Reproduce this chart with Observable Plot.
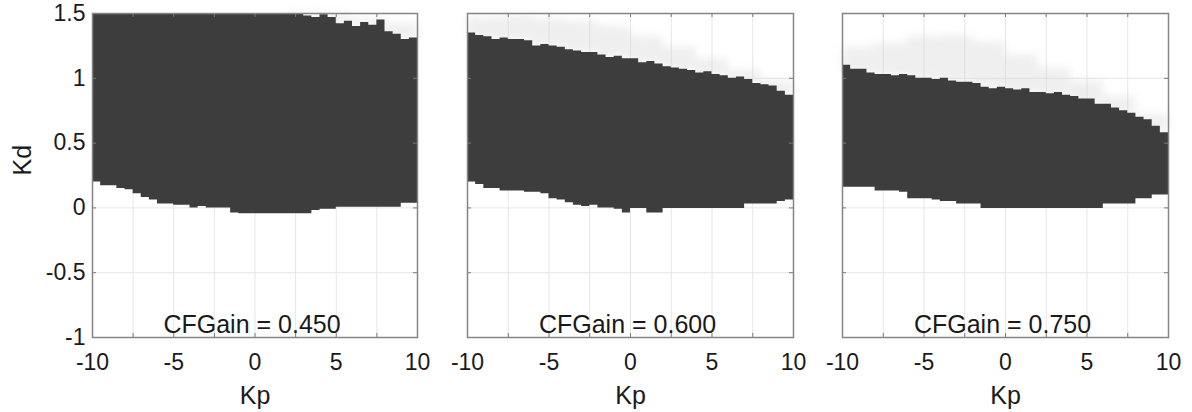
<!DOCTYPE html>
<html>
<head>
<meta charset="utf-8">
<script src="https://cdn.jsdelivr.net/npm/d3@7"></script>
<script src="https://cdn.jsdelivr.net/npm/@observablehq/plot@0.6"></script>
<style>
  body { margin: 0; background: #fff; }
  #chart { position: relative; width: 1192px; height: 412px; overflow: hidden; background: #fff; }
  #chart svg { position: absolute; top: 0; overflow: visible; }
</style>
</head>
<body>
<div id="chart"></div>
<script>
// Kp cell edges of the stability sweep (0.5 wide cells)
const kpEdges = [-10, -9.5, -9, -8.5, -8, -7.5, -7, -6.5, -6, -5.5, -5, -4.5, -4, -3.5, -3, -2.5, -2, -1.5, -1, -0.5,
                 0, 0.5, 1, 1.5, 2, 2.5, 3, 3.5, 4, 4.5, 5, 5.5, 6, 6.5, 7, 7.5, 8, 8.5, 9, 9.5, 10];
// coarse Kp edges for the faint marginal band above the stable region
const hazeEdges = [-10, -8, -6, -4, -2, 0, 2, 4, 6, 8, 10];

const cfGains = ["0.450", "0.600", "0.750"];

// Stable Kd range per Kp cell, CFGain = 0.450
const kdUpper045 = [1.5, 1.5, 1.5, 1.5, 1.5, 1.5, 1.5, 1.5, 1.5, 1.5, 1.5, 1.5, 1.5, 1.5, 1.5, 1.5, 1.5, 1.5, 1.5, 1.5,
                    1.5, 1.5, 1.5, 1.5, 1.5, 1.5, 1.48, 1.47, 1.49, 1.47, 1.42, 1.44, 1.40, 1.43, 1.41, 1.45, 1.36, 1.34, 1.30, 1.31];
const kdLower045 = [0.20, 0.17, 0.17, 0.15, 0.14, 0.11, 0.08, 0.06, 0.03, 0.03, 0.02, 0.02, 0.00, 0.01, 0.00, 0.00, 0.00, -0.04, -0.045, -0.045,
                    -0.045, -0.045, -0.045, -0.045, -0.045, -0.045, -0.045, -0.02, -0.01, -0.01, 0.005, 0.005, 0.005, 0.005, 0.005, 0.005, 0.005, 0.005, 0.035, 0.035];
const kdHaze045 = [1.5, 1.5, 1.5, 1.5, 1.5, 1.5, 1.5, 1.49, 1.46, 1.42];

// Stable Kd range per Kp cell, CFGain = 0.600
const kdUpper060 = [1.35, 1.33, 1.32, 1.30, 1.31, 1.30, 1.30, 1.29, 1.25, 1.26, 1.25, 1.24, 1.22, 1.21, 1.20, 1.20, 1.18, 1.16, 1.17, 1.15,
                    1.15, 1.12, 1.13, 1.11, 1.09, 1.08, 1.07, 1.06, 1.04, 1.05, 1.03, 1.02, 1.00, 1.01, 0.99, 0.96, 0.95, 0.94, 0.90, 0.87];
const kdLower060 = [0.20, 0.18, 0.15, 0.15, 0.13, 0.13, 0.13, 0.12, 0.12, 0.11, 0.07, 0.06, 0.04, 0.02, 0.01, 0.02, 0.00, 0.00, -0.01, -0.04,
                    -0.005, -0.005, -0.04, -0.04, -0.005, -0.005, -0.005, -0.005, -0.005, -0.005, -0.005, -0.005, -0.005, -0.005, 0.03, 0.03, 0.03, 0.03, 0.05, 0.06];
const kdHaze060 = [1.47, 1.48, 1.46, 1.44, 1.40, 1.32, 1.24, 1.15, 1.06, 0.98];

// Stable Kd range per Kp cell, CFGain = 0.750
const kdUpper075 = [1.10, 1.07, 1.07, 1.04, 1.03, 1.03, 1.02, 1.03, 1.02, 1.00, 1.00, 0.99, 1.00, 0.98, 0.97, 0.97, 0.96, 0.93, 0.92, 0.93,
                    0.92, 0.91, 0.92, 0.89, 0.89, 0.88, 0.89, 0.87, 0.86, 0.84, 0.84, 0.80, 0.80, 0.77, 0.75, 0.73, 0.70, 0.68, 0.63, 0.58];
const kdLower075 = [0.16, 0.16, 0.16, 0.16, 0.13, 0.13, 0.13, 0.12, 0.07, 0.07, 0.07, 0.06, 0.05, 0.05, 0.03, 0.03, 0.03, -0.005, -0.005, -0.005,
                    -0.005, -0.005, -0.005, -0.005, -0.005, -0.005, -0.005, -0.005, -0.005, -0.005, -0.005, -0.005, 0.03, 0.03, 0.03, 0.03, 0.07, 0.07, 0.10, 0.10];
const kdHaze075 = [1.24, 1.27, 1.32, 1.33, 1.28, 1.18, 1.08, 0.98, 0.86, 0.72];

// axis ticks
const xGridTicks = [-10, -7.5, -5, -2.5, 0, 2.5, 5, 7.5, 10];
const xTickLabels = [-10, -5, 0, 5, 10];
const yTicks = [-1, -0.5, 0, 0.5, 1, 1.5];

const panels = [
  {gain: cfGains[0], upper: kdUpper045, lower: kdLower045, haze: kdHaze045, left: 0,   width: 430, marginLeft: 92, marginRight: 13, showY: true},
  {gain: cfGains[1], upper: kdUpper060, lower: kdLower060, haze: kdHaze060, left: 430, width: 380, marginLeft: 37, marginRight: 17, showY: false},
  {gain: cfGains[2], upper: kdUpper075, lower: kdLower075, haze: kdHaze075, left: 805, width: 387, marginLeft: 37, marginRight: 24, showY: false}
];

const HEIGHT = 412, MT = 13, MB = 75, TICK = 4;
const fontFamily = "'Liberation Sans', Arial, Helvetica, sans-serif";
const ink = "#1a1a1a";

// step outline of a region: one point per cell, closed by the last edge
function stepPoints(edges, lo, hi) {
  const pts = lo.map((d, i) => ({x: edges[i], lo: d, hi: hi[i]}));
  const n = lo.length - 1;
  pts.push({x: edges[n + 1], lo: lo[n], hi: hi[n]});
  return pts;
}

const chart = document.getElementById("chart");

for (const p of panels) {
  const frameW = p.width - p.marginLeft - p.marginRight;
  const frameH = HEIGHT - MT - MB;
  const region = stepPoints(kpEdges, p.lower, p.upper);
  // faint band starts at the lowest stable upper bound inside each coarse cell
  const hazeLo = p.haze.map((_, j) => {
    const vals = p.upper.filter((_, i) => kpEdges[i] >= hazeEdges[j] && kpEdges[i] < hazeEdges[j + 1]);
    return Math.min(...vals);
  });
  const haze = stepPoints(hazeEdges, hazeLo, p.haze.map((h, j) => Math.max(h, hazeLo[j])));

  const marks = [
    Plot.gridX(xGridTicks, {stroke: "#e6e6e6", strokeOpacity: 1}),
    Plot.gridY(yTicks, {stroke: "#e6e6e6", strokeOpacity: 1}),
    Plot.areaY(haze, {x: "x", y1: "lo", y2: "hi", curve: "step-after", fill: "#d0d0d0", fillOpacity: 0.35, imageFilter: "blur(4px)"}),
    Plot.areaY(region, {x: "x", y1: "lo", y2: "hi", curve: "step-after", fill: "#3d3d3d"}),
    // inward tick marks on all four sides
    Plot.ruleX(xGridTicks, {x: d => d, stroke: "#7a7a7a", insetTop: frameH - TICK}),
    Plot.ruleX(xGridTicks, {x: d => d, stroke: "#7a7a7a", insetBottom: frameH - TICK}),
    Plot.ruleY(yTicks, {y: d => d, stroke: "#7a7a7a", insetRight: frameW - TICK}),
    Plot.ruleY(yTicks, {y: d => d, stroke: "#7a7a7a", insetLeft: frameW - TICK}),
    Plot.frame({stroke: "#858585", strokeWidth: 1.5}),
    Plot.axisX(xTickLabels, {tickSize: 0, tickPadding: 16, tickFormat: d => String(d), label: null, fill: ink, fontSize: 23}),
    Plot.text([`CFGain = ${p.gain}`], {text: d => d, frameAnchor: "bottom", dx: -3, dy: -13, lineAnchor: "middle", fontSize: 25, fill: ink}),
    Plot.text(["Kp"], {text: d => d, frameAnchor: "bottom", dy: 58, lineAnchor: "middle", fontSize: 25, fill: ink})
  ];
  if (p.showY) {
    marks.push(
      Plot.axisY(yTicks, {tickSize: 0, tickPadding: 7, tickFormat: d => String(d), label: null, fill: ink, fontSize: 23}),
      Plot.text(["Kd"], {text: d => d, frameAnchor: "left", dx: -70, rotate: -90, lineAnchor: "middle", fontSize: 25, fill: ink})
    );
  }

  const svg = Plot.plot({
    width: p.width,
    height: HEIGHT,
    marginTop: MT,
    marginBottom: MB,
    marginLeft: p.marginLeft,
    marginRight: p.marginRight,
    x: {domain: [-10, 10], axis: null},
    y: {domain: [-1, 1.5], axis: null},
    style: {fontFamily, fontSize: "23px", color: ink, background: "transparent", overflow: "visible"},
    marks
  });
  svg.style.left = p.left + "px";
  chart.appendChild(svg);
}
</script>
</body>
</html>
